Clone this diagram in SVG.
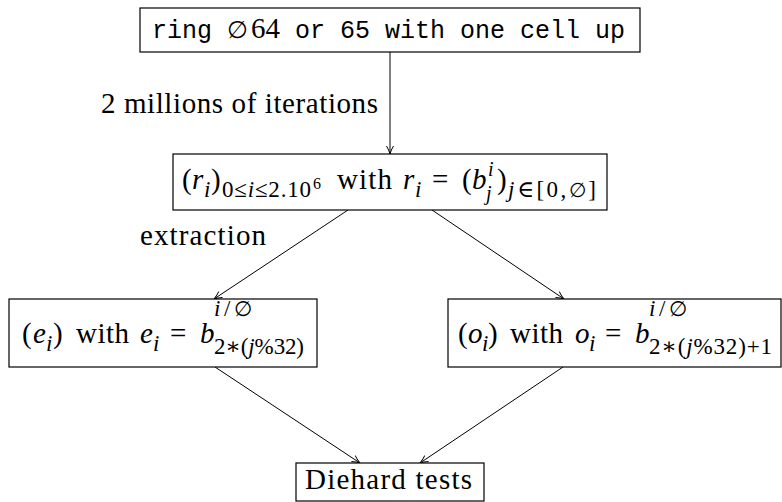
<svg xmlns="http://www.w3.org/2000/svg" width="782" height="502" viewBox="0 0 782 502">
<defs>
<style>
.bx{fill:#fff;stroke:#000;stroke-width:1.2}
.rm{font-family:"Liberation Serif","DejaVu Serif",serif;font-size:29px;fill:#000}
.it{font-style:italic}
.sc{font-size:23px}
.sv{font-size:20px}
.ss{font-size:16px}
.tt{font-family:"Liberation Mono","DejaVu Sans Mono",monospace;font-size:25px;fill:#000}
.ln{stroke:#000;stroke-width:1;fill:none}
</style>
<marker id="ah" markerUnits="userSpaceOnUse" markerWidth="12" markerHeight="12" refX="9" refY="5" orient="auto" viewBox="0 0 12 10">
<path d="M1,1.5 Q5,4 9,5 Q5,6 1,8.5" fill="none" stroke="#000" stroke-width="1"/>
</marker>
</defs>
<rect width="782" height="502" fill="#fff"/>
<g id="connectors">
<line class="ln" x1="390" y1="52" x2="390" y2="154" marker-end="url(#ah)"/>
<line class="ln" x1="348" y1="210" x2="214" y2="299" marker-end="url(#ah)"/>
<line class="ln" x1="432" y1="210" x2="564" y2="299" marker-end="url(#ah)"/>
<line class="ln" x1="215" y1="367" x2="360" y2="463" marker-end="url(#ah)"/>
<line class="ln" x1="563" y1="367" x2="420" y2="463" marker-end="url(#ah)"/>
<text class="rm" x="101" y="113" textLength="277">2 millions of iterations</text>
<text class="rm" x="140" y="245" textLength="126">extraction</text>
</g>
<g id="n-ring">
<rect class="bx" x="140" y="8" width="500" height="44"/>
<text class="tt" x="152" y="38">ring</text>
<text class="rm" x="227" y="38"><tspan font-family="DejaVu Serif" font-size="24px">∅</tspan><tspan x="251">64</tspan></text>
<text class="tt" x="295" y="38">or 65 with one cell up</text>
</g>
<g id="n-rows">
<rect class="bx" x="173" y="154" width="434" height="56"/>
<text class="rm"><tspan x="182" y="189">(</tspan><tspan class="it" x="192" y="189">r</tspan><tspan class="sc it" x="204" y="197">i</tspan><tspan x="211" y="189">)</tspan><tspan class="sc" x="222" y="197" textLength="89">0≤<tspan class="it">i</tspan>≤2.10</tspan><tspan class="ss" x="313" y="189">6</tspan><tspan x="337" y="189" textLength="55">with</tspan><tspan class="it" x="403" y="189">r</tspan><tspan class="sc it" x="415" y="197">i</tspan><tspan x="432" y="189">=</tspan><tspan x="462" y="189">(</tspan><tspan class="it" x="472" y="189">b</tspan><tspan class="sv it" x="488" y="176">i</tspan><tspan class="sv it" x="486" y="200">j</tspan><tspan x="497" y="189">)</tspan><tspan class="sc" x="508" y="197" textLength="88"><tspan class="it">j</tspan>∈[0,<tspan font-family="DejaVu Serif" font-size="20px">∅</tspan>]</tspan></text>
</g>
<g id="n-even">
<rect class="bx" x="9" y="299" width="308" height="68"/>
<text class="rm"><tspan x="22" y="343">(</tspan><tspan class="it" x="33" y="343">e</tspan><tspan class="sc it" x="46" y="351">i</tspan><tspan x="53" y="343">)</tspan><tspan x="76" y="343" textLength="53">with</tspan><tspan class="it" x="140" y="343">e</tspan><tspan class="sc it" x="153" y="351">i</tspan><tspan x="170" y="343">=</tspan><tspan class="it" x="200" y="343">b</tspan><tspan class="sc" x="214" y="316" textLength="38"><tspan class="it">i</tspan>/<tspan font-family="DejaVu Serif" font-size="21px">∅</tspan></tspan><tspan class="sc" x="214" y="354" textLength="90">2∗(<tspan class="it">j</tspan>%32)</tspan></text>
</g>
<g id="n-odd">
<rect class="bx" x="448" y="299" width="333" height="68"/>
<text class="rm"><tspan x="458" y="343">(</tspan><tspan class="it" x="468" y="343">o</tspan><tspan class="sc it" x="482" y="351">i</tspan><tspan x="488" y="343">)</tspan><tspan x="510" y="343" textLength="53">with</tspan><tspan class="it" x="575" y="343">o</tspan><tspan class="sc it" x="589" y="351">i</tspan><tspan x="605" y="343">=</tspan><tspan class="it" x="635" y="343">b</tspan><tspan class="sc" x="649" y="316" textLength="38"><tspan class="it">i</tspan>/<tspan font-family="DejaVu Serif" font-size="21px">∅</tspan></tspan><tspan class="sc" x="649" y="354" textLength="123">2∗(<tspan class="it">j</tspan>%32)+1</tspan></text>
</g>
<g id="n-diehard">
<rect class="bx" x="296" y="463" width="188" height="38"/>
<text class="rm" x="305" y="489" textLength="167">Diehard tests</text>
</g>
</svg>
